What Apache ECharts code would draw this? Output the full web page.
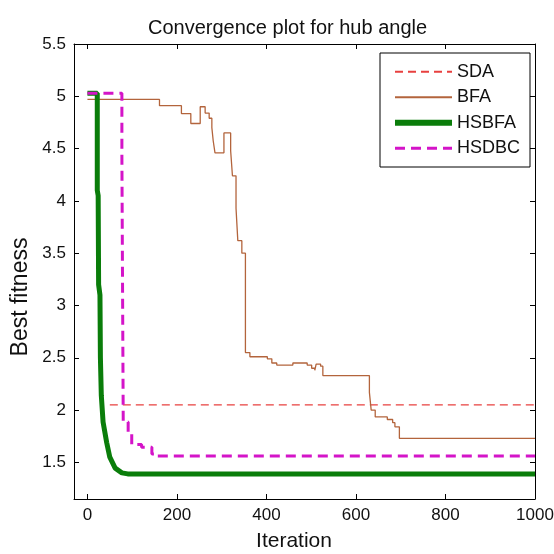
<!DOCTYPE html>
<html>
<head>
<meta charset="utf-8">
<script src="https://cdn.jsdelivr.net/npm/echarts@6/dist/echarts.min.js"></script>
<style>
html, body { margin: 0; padding: 0; background: #fff; }
#main { width: 554px; height: 554px; }
</style>
</head>
<body>
<div id="main"></div>
<script>
var chart = echarts.init(document.getElementById('main'));

var xTicks = [0, 200, 400, 600, 800, 1000];
var yTicks = [1.5, 2, 2.5, 3, 3.5, 4, 4.5, 5, 5.5];

// SDA (flat)
var sdaIter = [50, 1000];
var sdaFit = [2.05, 2.05];

// BFA (stepwise, value holds until next iteration)
var bfaIter = [0, 161, 210, 231, 252, 263, 272, 278, 281, 285, 305, 320, 324, 332, 336, 345, 353, 363, 402, 412, 423, 459, 491, 501, 508, 511, 521, 526, 630, 634, 643, 670, 682, 687, 697, 1000];
var bfaFit = [4.97, 4.91, 4.835, 4.74, 4.90, 4.84, 4.79, 4.70, 4.575, 4.46, 4.65, 4.48, 4.24, 3.93, 3.62, 3.50, 2.55, 2.51, 2.49, 2.45, 2.43, 2.45, 2.43, 2.40, 2.38, 2.44, 2.42, 2.33, 2.17, 2.00, 1.935, 1.91, 1.88, 1.84, 1.73, 1.73];

// HSBFA
var hsbfaIter = [0, 22, 22, 24, 25, 28, 29, 31, 35, 43, 50, 62, 77, 90, 1000];
var hsbfaFit = [5.03, 5.03, 4.1, 4.05, 3.2, 3.1, 2.5, 2.14, 1.885, 1.69, 1.55, 1.445, 1.40, 1.39, 1.39];

// HSDBC (stepwise)
var hsdbcIter = [0, 77, 80, 91, 99, 121, 144, 151, 1000];
var hsdbcFit = [5.03, 4.43, 1.885, 1.77, 1.67, 1.645, 1.58, 1.56, 1.56];

function pairs(xs, ys) {
    return xs.map(function (x, i) { return [x, ys[i]]; });
}

var font = "'Liberation Sans', Arial, sans-serif";

function boxAxis(ticks) {
    return {
        axisLine: { show: true, onZero: false, lineStyle: { color: '#000', width: 1 } },
        axisTick: { show: true, inside: true, length: 5, customValues: ticks, lineStyle: { color: '#000' } },
        splitLine: { show: false }
    };
}

var option = {
    animation: false,
    backgroundColor: '#fff',
    title: {
        text: 'Convergence plot for hub angle',
        left: 143,
        top: 13,
        textStyle: { fontFamily: font, fontWeight: 'normal', fontSize: 20, color: '#111' }
    },
    // axis names placed like the original figure (a bit off-centre)
    graphic: [
        {
            type: 'text', x: 294, y: 541,
            style: { text: 'Iteration', fontFamily: font, fontSize: 21, fill: '#111', align: 'center', verticalAlign: 'middle' }
        },
        {
            type: 'text', x: 21, y: 297, rotation: Math.PI / 2,
            style: { text: 'Best fitness', fontFamily: font, fontSize: 23, fill: '#111', align: 'center', verticalAlign: 'middle' }
        }
    ],
    grid: { left: 74, right: 19, top: 44, bottom: 55, outerBoundsMode: 'none', containLabel: false },
    legend: {
        orient: 'vertical',
        left: 380,
        top: 53,
        padding: [6, 10, 6, 12],
        itemWidth: 57,
        itemHeight: 14,
        itemGap: 0,
        borderColor: '#000',
        borderWidth: 1,
        backgroundColor: '#fff',
        itemStyle: { opacity: 0 },
        textStyle: { fontFamily: font, fontSize: 18, color: '#111', lineHeight: 25.5 },
        data: [
            { name: 'SDA' },
            { name: 'BFA' },
            { name: 'HSBFA', lineStyle: { width: 6 } },
            { name: 'HSDBC', lineStyle: { width: 3 } }
        ]
    },
    xAxis: [
        echarts.util.merge({
            type: 'value',
            min: -30,
            max: 1000,
            axisLabel: {
                customValues: xTicks, margin: 8, fontFamily: font, fontSize: 17, color: '#111',
                formatter: function (v) { return String(v); }
            }
        }, boxAxis(xTicks), true),
        echarts.util.merge({
            type: 'value',
            position: 'top',
            min: -30,
            max: 1000,
            axisLabel: { show: false }
        }, boxAxis(xTicks), true)
    ],
    yAxis: [
        echarts.util.merge({
            type: 'value',
            min: 1.15,
            max: 5.5,
            axisLabel: {
                customValues: yTicks, margin: 8, fontFamily: font, fontSize: 17, color: '#111',
                formatter: function (v) { return String(v); }
            }
        }, boxAxis(yTicks), true),
        echarts.util.merge({
            type: 'value',
            position: 'right',
            min: 1.15,
            max: 5.5,
            axisLabel: { show: false }
        }, boxAxis(yTicks), true)
    ],
    series: [
        {
            name: 'SDA',
            type: 'line',
            symbol: 'none',
            lineStyle: { color: '#e8403f', width: 1.2, type: [8, 5] },
            itemStyle: { color: '#e8403f' },
            data: pairs(sdaIter, sdaFit)
        },
        {
            name: 'BFA',
            type: 'line',
            step: 'end',
            symbol: 'none',
            lineStyle: { color: '#b3643c', width: 1.3 },
            itemStyle: { color: '#b3643c' },
            data: pairs(bfaIter, bfaFit)
        },
        {
            name: 'HSBFA',
            type: 'line',
            symbol: 'none',
            lineStyle: { color: '#0a7d0a', width: 5 },
            itemStyle: { color: '#0a7d0a' },
            data: pairs(hsbfaIter, hsbfaFit)
        },
        {
            name: 'HSDBC',
            type: 'line',
            step: 'end',
            symbol: 'none',
            lineStyle: { color: '#d414c8', width: 3, type: [10, 6] },
            itemStyle: { color: '#d414c8' },
            data: pairs(hsdbcIter, hsdbcFit)
        }
    ]
};
chart.setOption(option);
</script>
</body>
</html>
